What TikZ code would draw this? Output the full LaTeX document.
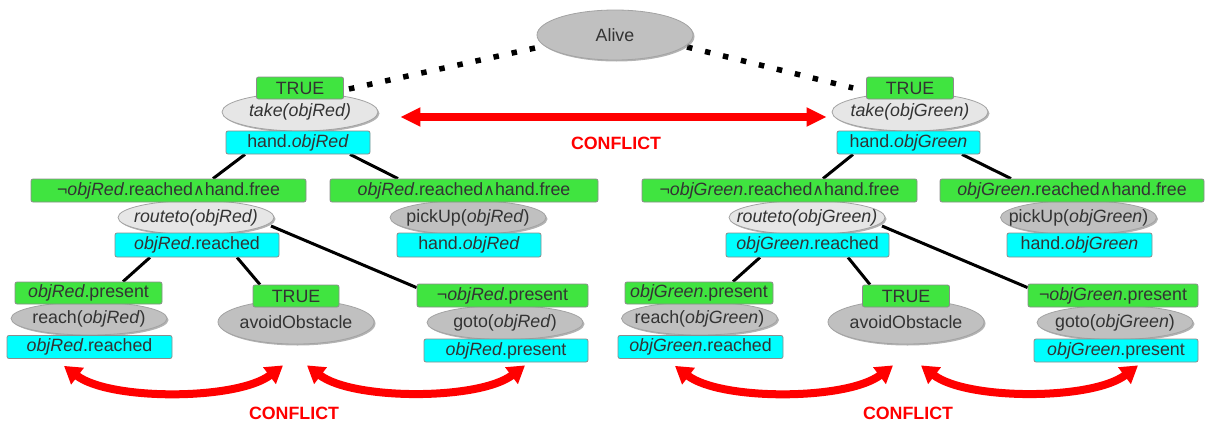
\documentclass[tikz,border=0pt]{standalone}
\usepackage{fontspec}
\setmainfont{Liberation Sans}
\newfontfamily\symfont{DejaVu Sans}
\usetikzlibrary{calc,arrows.meta,shadows,shapes.geometric,backgrounds}

\definecolor{pregreen}{RGB}{64,228,64}
\definecolor{postcyan}{RGB}{0,255,255}
\definecolor{actgray}{RGB}{192,192,192}
\definecolor{actlight}{RGB}{230,230,230}
\definecolor{rimgray}{RGB}{140,140,140}
\definecolor{txtgray}{RGB}{51,51,51}

\newcommand{\ob}[1]{\textit{#1}}
\newcommand{\andsym}{{\symfont\fontsize{16}{16}\selectfont ∧}}
% zero-width label so the ellipse keeps its fixed size
\newcommand{\lbl}[1]{\makebox[0pt]{#1}}

\tikzset{
  base/.style={font=\fontsize{17.8}{20}\selectfont, text=txtgray, inner sep=0pt},
  prebox/.style={base, rectangle, rounded corners=2pt, draw=rimgray, line width=0.8pt,
    fill=pregreen, minimum height=23pt},
  postbox/.style={prebox, fill=postcyan},
  act/.style={base, ellipse, draw=rimgray!80, line width=0.8pt, fill=actgray,
    minimum width=156pt, minimum height=34pt,
    drop shadow={shadow xshift=1.5pt, shadow yshift=-1.5pt, fill=black!50, opacity=0.6}},
  actlt/.style={act, fill=actlight},
  link/.style={line width=3pt, black},
  dotlink/.style={line width=5.5pt, dash pattern=on 5.5pt off 13pt, black},
  conflict/.style={red, line width=8pt,
    {Triangle[length=20pt,width=18pt]}-{Triangle[length=20pt,width=18pt]}},
  bowconflict/.style={red, line width=8pt,
    {Triangle[length=17pt,width=20pt]}-{Triangle[length=17pt,width=20pt]}},
  conftxt/.style={font=\fontsize{17.8}{20}\selectfont\bfseries, text=red}
}

\begin{document}
\begin{tikzpicture}[x=1pt,y=-1pt]
\useasboundingbox (0,0) rectangle (1207,423);

% root
\node[act, minimum width=156pt, minimum height=50pt] (alive) at (615,35) {\lbl{Alive}};

% take(objRed)
\node[actlt, minimum height=38pt] (tk1) at (300,112) {\lbl{\ob{take(objRed)}}};
\node[prebox, minimum width=87pt, minimum height=22pt] (tr1) at (300,88) {TRUE};
\node[postbox, minimum width=144pt] (hd1) at (298,142.5) {hand.\ob{objRed}};

% take(objGreen)
\node[actlt, minimum height=38pt] (tk2) at (910,112) {\lbl{\ob{take(objGreen)}}};
\node[prebox, minimum width=87pt, minimum height=22pt] (tr2) at (910,88) {TRUE};
\node[postbox, minimum width=143pt] (hd2) at (908.5,142.5) {hand.\ob{objGreen}};

% routeto(objRed)
\node[actlt] (rt1) at (196,217.5) {\lbl{\ob{routeto(objRed)}}};
\node[prebox, minimum width=275pt] (c1) at (168.5,190.5) {¬\ob{objRed}.reached\andsym hand.free};
\node[postbox, minimum width=164pt, minimum height=24pt] (rr1) at (197,245) {\ob{objRed}.reached};

% pickUp(objRed)
\node[act] (pk1) at (468,217.5) {\lbl{pickUp(\ob{objRed})}};
\node[prebox, minimum width=268pt] (c2) at (464,190.5) {\ob{objRed}.reached\andsym hand.free};
\node[postbox, minimum width=144pt, minimum height=24pt] (ph1) at (469,245) {hand.\ob{objRed}};

% routeto(objGreen)
\node[actlt] (rt2) at (807,217.5) {\lbl{\ob{routeto(objGreen)}}};
\node[prebox, minimum width=275pt] (c3) at (779.5,190.5) {¬\ob{objGreen}.reached\andsym hand.free};
\node[postbox, minimum width=163pt, minimum height=24pt] (rr2) at (807.5,245) {\ob{objGreen}.reached};

% pickUp(objGreen)
\node[act] (pk2) at (1078.5,217.5) {\lbl{pickUp(\ob{objGreen})}};
\node[prebox, minimum width=264pt] (c4) at (1072,190.5) {\ob{objGreen}.reached\andsym hand.free};
\node[postbox, minimum width=145pt, minimum height=24pt] (ph2) at (1079.5,245) {hand.\ob{objGreen}};

% reach(objRed)
\node[act, minimum height=33pt] (re1) at (89,318.5) {\lbl{reach(\ob{objRed})}};
\node[prebox, minimum width=147pt, minimum height=22pt] (p1) at (88.5,293) {\ob{objRed}.present};
\node[postbox, minimum width=165pt] (q1) at (89.5,347) {\ob{objRed}.reached};

% avoidObstacle (left)
\node[act, minimum height=44pt] (av1) at (296,322) {\lbl{avoidObstacle}};
\node[prebox, minimum width=86pt, minimum height=22pt] (tt1) at (296,296) {TRUE};

% goto(objRed)
\node[act] (gt1) at (505,322.5) {\lbl{goto(\ob{objRed})}};
\node[prebox, minimum width=171pt] (n1) at (502.5,295.5) {¬\ob{objRed}.present};
\node[postbox, minimum width=164pt] (g1) at (506,350.5) {\ob{objRed}.present};

% reach(objGreen)
\node[act, minimum height=33pt] (re2) at (699.5,318.5) {\lbl{reach(\ob{objGreen})}};
\node[prebox, minimum width=148pt, minimum height=22pt] (p2) at (699,293) {\ob{objGreen}.present};
\node[postbox, minimum width=165pt] (q2) at (700.5,347) {\ob{objGreen}.reached};

% avoidObstacle (right)
\node[act, minimum height=44pt] (av2) at (906,322) {\lbl{avoidObstacle}};
\node[prebox, minimum width=87pt, minimum height=22pt] (tt2) at (906,296) {TRUE};

% goto(objGreen)
\node[act] (gt2) at (1115,322.5) {\lbl{goto(\ob{objGreen})}};
\node[prebox, minimum width=170pt] (n2) at (1113,295.5) {¬\ob{objGreen}.present};
\node[postbox, minimum width=164pt] (g2) at (1116,350.5) {\ob{objGreen}.present};

% tree edges
\begin{scope}[on background layer]
  \draw[dotlink] ($(alive.center)+(-80,13)$) -- ($(tr1.east)+(5,1)$);
  \draw[dotlink] ($(alive.center)+(72,12)$) -- ($(tr2.west)+(-13,0)$);

  \draw[link] ($(hd1.south)+(-53,0)$) -- ($(c1.north)+(44.5,0)$);
  \draw[link] ($(hd1.south)+(52,0)$) -- ($(c2.north)+(-66,0)$);
  \draw[link] ($(rr1.south)+(-47,0)$) -- ($(p1.north)+(34.5,0)$);
  \draw[link] ($(rr1.south)+(40,0)$) -- ($(tt1.north)+(-36,0)$);
  \draw[link] ($(rt1.center)+(75,8.5)$) -- ($(n1.north west)+(0,4)$);

  \draw[link] ($(hd2.south)+(-55.5,0)$) -- ($(c3.north)+(43.5,0)$);
  \draw[link] ($(hd2.south)+(53.5,0)$) -- ($(c4.north)+(-61,0)$);
  \draw[link] ($(rr2.south)+(-47.5,0)$) -- ($(p2.north)+(34,0)$);
  \draw[link] ($(rr2.south)+(40.5,0)$) -- ($(tt2.north)+(-36,0)$);
  \draw[link] ($(rt2.center)+(75,8.5)$) -- ($(n2.north west)+(0,4)$);
\end{scope}

% conflicts
\draw[conflict] ($(tk1.east)+(22,5)$) -- ($(tk2.west)+(-5,5)$);
\node[conftxt] (cf0) at (616,143) {CONFLICT};

\coordinate (a1s) at ($(q1.south)+(-25.5,7)$);
\coordinate (a1e) at ($(av1.south)+(-13,21)$);
\coordinate (a2s) at ($(av1.south)+(11,21)$);
\coordinate (a2e) at ($(g1.south)+(19,3)$);
\coordinate (b1s) at ($(q2.south)+(-25.5,7)$);
\coordinate (b1e) at ($(av2.south)+(-13,21)$);
\coordinate (b2s) at ($(av2.south)+(15,21)$);
\coordinate (b2e) at ($(g2.south)+(22,3)$);

\draw[bowconflict] (a1s) .. controls ($(a1s)+(46,35)$) and ($(a1e)+(-46,35)$) .. (a1e);
\draw[bowconflict] (a2s) .. controls ($(a2s)+(46,35)$) and ($(a2e)+(-46,35)$) .. (a2e);
\draw[bowconflict] (b1s) .. controls ($(b1s)+(46,35)$) and ($(b1e)+(-46,35)$) .. (b1e);
\draw[bowconflict] (b2s) .. controls ($(b2s)+(46,35)$) and ($(b2e)+(-46,35)$) .. (b2e);

\node[conftxt] (cf1) at (294,413) {CONFLICT};
\node[conftxt] (cf2) at (908,413) {CONFLICT};
\end{tikzpicture}
\end{document}
